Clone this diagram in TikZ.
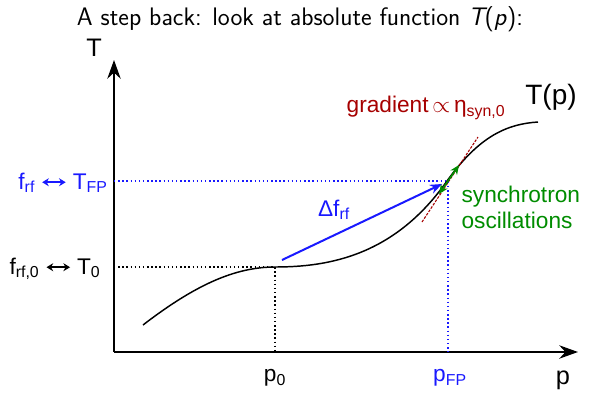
\documentclass[tikz,border=0pt]{standalone}
\usepackage{fontspec}
\setmainfont{Liberation Sans}
\usepackage{tikz}
\usetikzlibrary{arrows.meta}

% small bold double arrow used in the axis labels
\newcommand{\lrarr}[1]{\tikz[baseline=-0.6ex]\draw[#1, line width=1.2pt, {Stealth[length=5pt,width=6pt]}-{Stealth[length=5pt,width=6pt]}] (0,0) -- (0.62cm,0);}

\begin{document}
\begin{tikzpicture}[x=0.75pt, y=-0.75pt, >=Stealth,
        axis/.style={line width=1.7pt, -{Stealth[length=14pt, width=10pt]}},
        curve/.style={line width=1.1pt},
        guide/.style={dotted, line width=1.1pt},
        lbl/.style={font=\fontsize{17}{19.5}\selectfont, inner sep=1pt},
        biglbl/.style={font=\fontsize{19}{22}\selectfont, inner sep=1pt}]
        \colorlet{myblue}{blue!90!white}
        \colorlet{myred}{red!65!black}
        \colorlet{mygreen}{green!55!black}

        \useasboundingbox (0,0) rectangle (590,397);

        % title
        \node[font=\sffamily\fontsize{19}{22}\selectfont] (title) at (300,19) {A step back: look at absolute function {\itshape T}(\textit{p}):};

        % axes
        \coordinate (origin) at (114,352);
        \coordinate (ytop) at (114,60);
        \coordinate (xend) at (578,352);
        \draw[axis] (origin) -- (ytop);
        \draw[axis] (origin) -- (xend);
        \node[biglbl] (tlabel) at (94,48) {T};
        \node[biglbl] (plabel) at (563,380) {p};

        % points on the curve
        \coordinate (start) at (143,325);
        \coordinate (flat) at (275,267);
        \coordinate (fp) at (447,181);
        \coordinate (end) at (538,122);

        % guide lines
        \coordinate (t0axis) at (114,267);
        \coordinate (p0axis) at (275,352);
        \coordinate (tfpaxis) at (114,181);
        \coordinate (pfpaxis) at (448,352);
        \draw[guide] (t0axis) -- (flat) -- (p0axis);
        \draw[guide, myblue] (tfpaxis) -- (448,181) -- (pfpaxis);

        % T(p)
        \draw[curve] (start) .. controls (195,285) and (235,267) .. (flat)
            .. controls (330,267) and (395,255) .. (fp)
            .. controls (480,135) and (508,124) .. (end);
        \node[font=\fontsize{21}{24}\selectfont] (tp) at (551,97) {T(p)};

        % gradient
        \coordinate (grad1) at (422,222);
        \coordinate (grad2) at (478,137);
        \draw[myred, line width=0.8pt, dash pattern=on 2pt off 1pt] (grad1) -- (grad2);
        \node[lbl, text=myred] (gradlabel) at (426,108) {gradient\,$\propto$\,η\textsubscript{syn,0}};

        % shift of the rf frequency
        \coordinate (shift1) at (282,260);
        \coordinate (shift2) at (442,184);
        \draw[-{Stealth[length=9pt, width=7pt]}, myblue, line width=1.5pt] (shift1) -- (shift2);
        \node[lbl, text=myblue] (dflabel) at (334,210) {Δf\textsubscript{rf}};

        % synchrotron oscillations
        \coordinate (osc1) at (439,194);
        \coordinate (osc2) at (459,165);
        \draw[{Stealth[length=7pt, width=6pt]}-{Stealth[length=7pt, width=6pt]}, mygreen, line width=1.3pt] (osc1) -- (osc2);
        \node[lbl, text=mygreen, align=left, anchor=west] (osclabel) at (460,207) {synchrotron\\oscillations};

        % axis labels
        \node[lbl, text=myblue] (tfp) at (63,183) {f\textsubscript{rf} \lrarr{myblue} T\textsubscript{FP}};
        \node[lbl] (t0) at (55,269) {f\textsubscript{rf,0} \lrarr{black} T\textsubscript{0}};
        \node[lbl] (p0) at (275,378) {p\textsubscript{0}};
        \node[lbl, text=myblue] (pfp) at (450,378) {p\textsubscript{FP}};
    \end{tikzpicture}
\end{document}
